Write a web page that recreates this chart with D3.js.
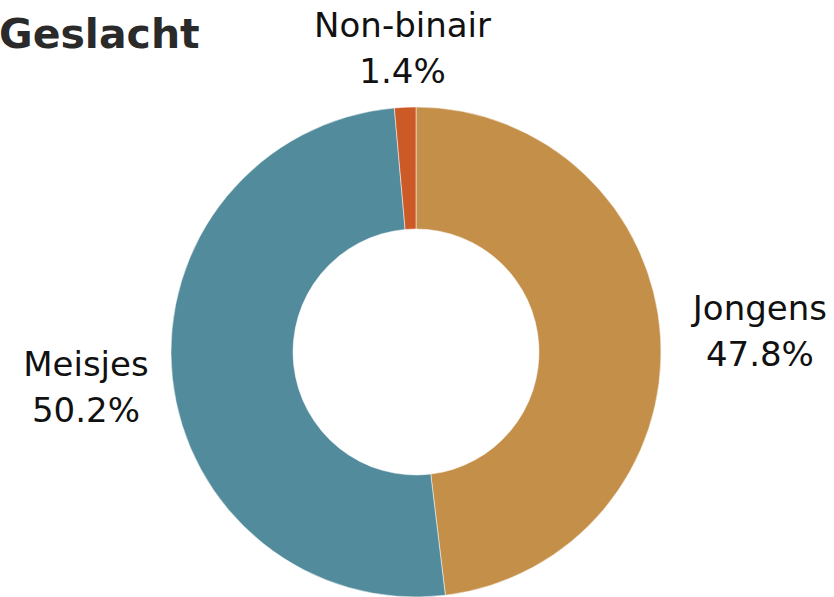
<!DOCTYPE html>
<html>
<head>
<meta charset="utf-8">
<script src="https://cdn.jsdelivr.net/npm/d3@7"></script>
<style>
  body { margin: 0; background: #fff; }
  svg { display: block; font-family: "DejaVu Sans", Verdana, sans-serif; }
</style>
</head>
<body>
<svg width="834" height="597"></svg>
<script>
// DATA
var categories = ["Jongens", "Meisjes", "Non-binair"];
var shares = [47.8, 50.2, 1.4];
var colors = ["#C48F48", "#528B9B", "#CC5A27"];

var svg = d3.select("svg"),
    width = +svg.attr("width"),
    height = +svg.attr("height");

var cx = 416, cy = 352,
    outer = 245, inner = 123;

// Title
svg.append("text")
    .attr("x", -1)
    .attr("y", 48)
    .attr("font-size", "41px")
    .attr("font-weight", "bold")
    .attr("fill", "#2a2a2a")
    .text("Geslacht");

var data = categories.map(function(c, i) {
  return { name: c, value: shares[i], color: colors[i] };
});

var pie = d3.pie()
    .value(function(d) { return d.value; })
    .sort(null);

var arc = d3.arc().innerRadius(inner).outerRadius(outer);

var g = svg.append("g").attr("transform", "translate(" + cx + "," + cy + ")");

var arcs = pie(data);

g.selectAll("path")
  .data(arcs)
  .enter().append("path")
    .attr("d", arc)
    .attr("fill", function(d) { return d.data.color; })
    .attr("stroke", "#fff")
    .attr("stroke-width", 0.5);

// Outside labels: box pushed out from the arc along the mid angle
var fontSize = 34, lineGap = 46;
var labels = g.selectAll(".lbl")
  .data(arcs)
  .enter().append("text")
    .attr("class", "lbl")
    .attr("font-size", fontSize + "px")
    .attr("fill", "#111")
    .attr("text-anchor", "middle");

labels.append("tspan")
    .attr("x", 0).attr("y", 0)
    .text(function(d) { return d.data.name; });
labels.append("tspan")
    .attr("x", 0).attr("y", lineGap)
    .text(function(d) { return d.data.value.toFixed(1) + "%"; });

labels.each(function(d) {
  var el = d3.select(this);
  var bb = this.getBBox();
  var a = (d.startAngle + d.endAngle) / 2;
  var dx = Math.sin(a), dy = -Math.cos(a);
  var hw = bb.width / 2, hh = bb.height / 2;
  var gap = 12 + (dx > 0 ? 16 : 8) * Math.abs(dx);
  var ext = Math.abs(dx) * hw + Math.abs(dy) * hh;
  var dist = outer + gap + ext;
  var bx = dx * dist, by = dy * dist;
  // shift so that the bbox centre lands on (bx, by)
  var ox = bx - (bb.x + hw), oy = by - (bb.y + hh);
  el.attr("transform", "translate(" + ox + "," + oy + ")");
});
</script>
</body>
</html>
